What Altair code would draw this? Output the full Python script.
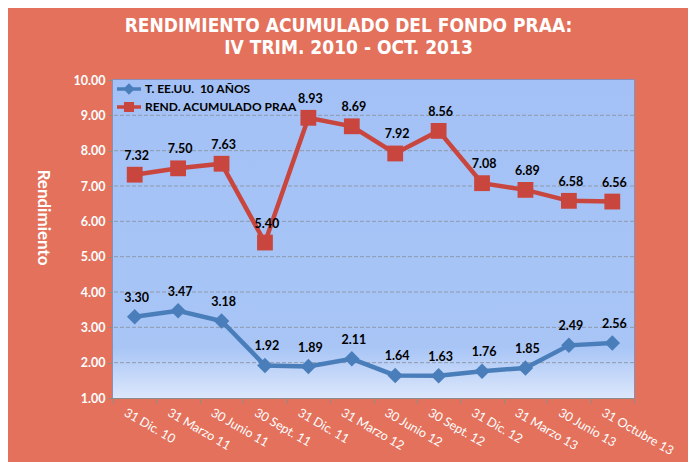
import altair as alt
import pandas as pd

FECHAS = ["31 Dic. 10", "31 Marzo 11", "30 Junio 11", "30 Sept. 11", "31 Dic. 11",
          "31 Marzo 12", "30 Junio 12", "30 Sept. 12", "31 Dic. 12", "31 Marzo 13",
          "30 Junio 13", "31 Octubre 13"]
SERIES = ["T. EE.UU.\u00a0 10 AÑOS", "REND. ACUMULADO PRAA"]
TESORO = [3.30, 3.47, 3.18, 1.92, 1.89, 2.11, 1.64, 1.63, 1.76, 1.85, 2.49, 2.56]
PRAA = [7.32, 7.50, 7.63, 5.40, 8.93, 8.69, 7.92, 8.56, 7.08, 6.89, 6.58, 6.56]
Y_GRID = [2, 3, 4, 5, 6, 7, 8, 9]
TITLE = ["RENDIMIENTO ACUMULADO DEL FONDO PRAA:", "IV TRIM. 2010 - OCT. 2013"]

rows = []
for s, vals in zip(SERIES, [TESORO, PRAA]):
    for f, v in zip(FECHAS, vals):
        rows.append({"fecha": f, "serie": s, "valor": v})
df = pd.DataFrame(rows)

W, H = 521, 318
BG = "#E3715C"
COLORS = ["#4A7EBB", "#C9463F"]
FONT = "Lato"

yscale = alt.Scale(domain=[1, 10], nice=False, zero=False)
yaxis = alt.Axis(title="Rendimiento", values=list(range(1, 11)), format=".2f", grid=False,
                 labelColor="white", labelFont=FONT, labelFontWeight="bold", labelFontSize=12.5,
                 labelPadding=3, tickSize=5, tickColor="#8C8C8C", domainColor="#8C8C8C",
                 titleColor="white", titleFont=FONT, titleFontWeight="bold", titleFontSize=17,
                 titleAngle=90, titleX=-71, titleY=137, titleAlign="center", titleBaseline="middle")
xscale = alt.Scale(type="band", domain=FECHAS, paddingInner=0, paddingOuter=0)
xaxis = alt.Axis(title=None, labelAngle=30, labelAlign="left", labelBaseline="top",
                 labelColor="white", labelFont=FONT, labelFontSize=12.5, labelPadding=3,
                 labelOffset=-7, tickBand="extent", tickSize=5, tickColor="#8C8C8C",
                 domainColor="#8C8C8C", grid=False)

LEG_SHAPES = ["M-1,-0.15H1V0.15H-1Z M0,-0.48L0.48,0L0,0.48L-0.48,0Z",
              "M-1,-0.15H1V0.15H-1Z M-0.42,-0.42H0.42V0.42H-0.42Z"]
legend = alt.Legend(title=None, orient="none", legendX=4, legendY=-3, padding=0,
                    symbolSize=576, rowPadding=0, labelOffset=4,
                    labelFont=FONT, labelFontWeight="bold", labelFontSize=12, labelColor="black",
                    symbolStrokeWidth=0, symbolOpacity=1)
color = alt.Color("serie:N", scale=alt.Scale(domain=SERIES, range=COLORS), legend=legend)

bg = alt.Chart(pd.DataFrame({"a": [0]})).mark_rect(
    color=alt.Gradient(gradient="linear", x1=0, x2=0, y1=0, y2=1,
                       stops=[alt.GradientStop(offset=0, color="#A3C1F6"),
                              alt.GradientStop(offset=0.84, color="#A8C5F6"),
                              alt.GradientStop(offset=1, color="#DCE7FB")])
).encode(x=alt.value(0), x2=alt.value(W), y=alt.value(0), y2=alt.value(H))

grid = alt.Chart(pd.DataFrame({"valor": Y_GRID})).mark_rule(
    color="#8F99AB", strokeWidth=1, strokeDash=[4, 2]
).encode(y=alt.Y("valor:Q", scale=yscale, axis=yaxis))

base = alt.Chart(df).encode(
    x=alt.X("fecha:N", sort=FECHAS, scale=xscale, axis=xaxis),
    y=alt.Y("valor:Q", scale=yscale, axis=yaxis),
    color=color,
)

# legend-only layer (no visible marks)
legend_layer = base.mark_point(filled=True, opacity=1).encode(
    shape=alt.Shape("serie:N", scale=alt.Scale(domain=SERIES, range=LEG_SHAPES), legend=legend)
).transform_filter("false")

lines = base.mark_line(strokeWidth=4.5)
pts_blue = base.mark_point(filled=True, size=240, opacity=1, shape="diamond").transform_filter(
    alt.datum.serie == SERIES[0])
pts_red = base.mark_point(filled=True, size=250, opacity=1, shape="square").transform_filter(
    alt.datum.serie == SERIES[1])
labels = base.mark_text(dy=-19, dx=2, font=FONT, fontWeight="bold", fontSize=12.5).encode(
    text=alt.Text("valor:Q", format=".2f"), color=alt.value("black")
)

chart = alt.layer(bg, grid, legend_layer, lines, pts_blue, pts_red, labels).properties(
    width=W, height=H,
    title=alt.TitleParams(TITLE, anchor="middle", dx=-25, offset=16, color="white",
                          font="Liberation Sans Narrow, DejaVu Sans Condensed, Liberation Sans",
                          fontSize=19, fontWeight="bold", lineHeight=22),
    padding={"left": 105, "top": 72, "right": 54, "bottom": 64},
    autosize=alt.AutoSizeParams(type="none"),
    background=BG,
).configure_view(stroke="#6D98D6", strokeWidth=1.5)

chart.save("out.html", embed_options={"renderer": "svg", "actions": False})
